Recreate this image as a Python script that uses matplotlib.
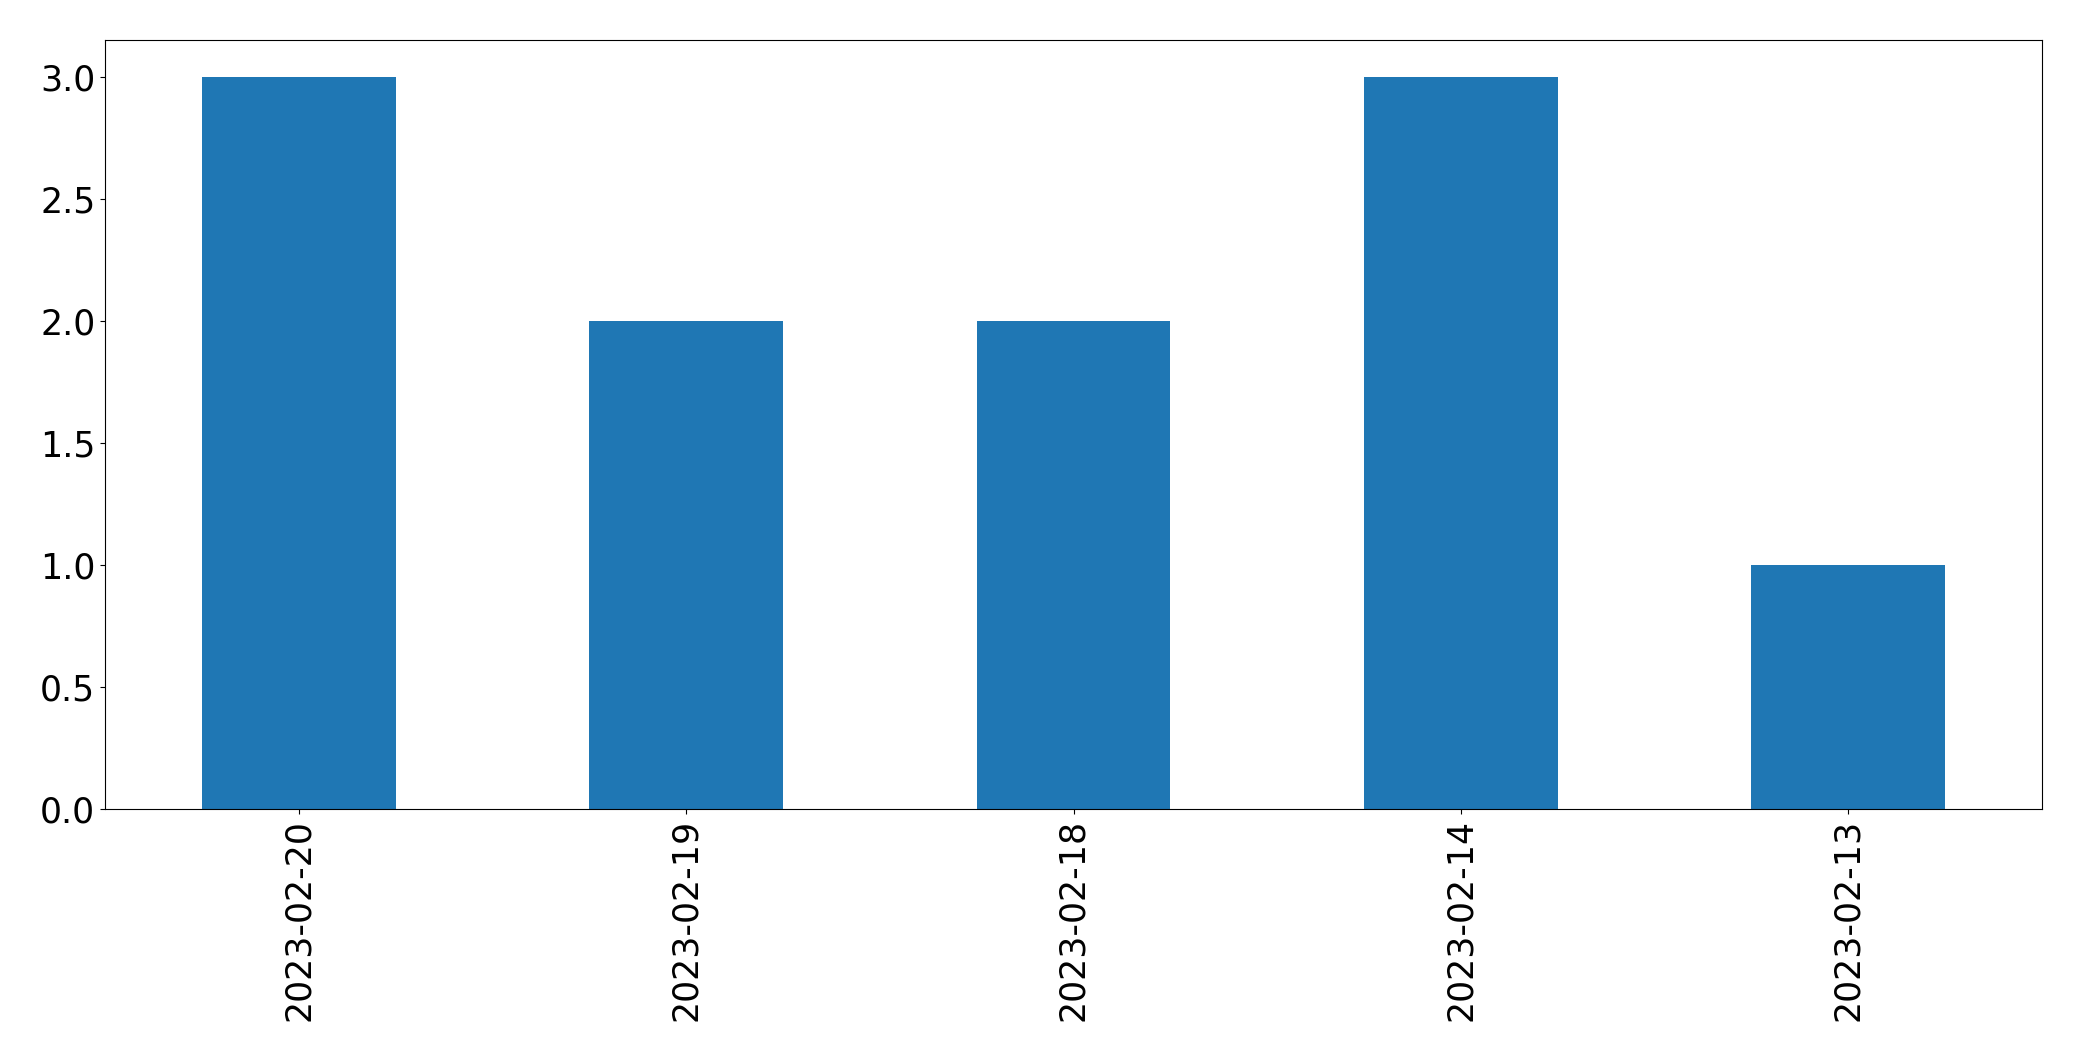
import matplotlib
matplotlib.use("Agg")
import matplotlib.pyplot as plt
import pandas as pd

dates = ["2023-02-20", "2023-02-19", "2023-02-18", "2023-02-14", "2023-02-13"]
counts = [3, 2, 2, 3, 1]

s = pd.Series(counts, index=dates)

fig = plt.figure(figsize=(20.82, 10.61), dpi=100)
ax = fig.add_axes([105/2082, 1-809/1061, (2042-105)/2082, (809-40)/1061])
s.plot(kind="bar", ax=ax, color="#1f77b4")
ax.tick_params(axis="both", labelsize=25)
fig.savefig("out.png", dpi=100)
